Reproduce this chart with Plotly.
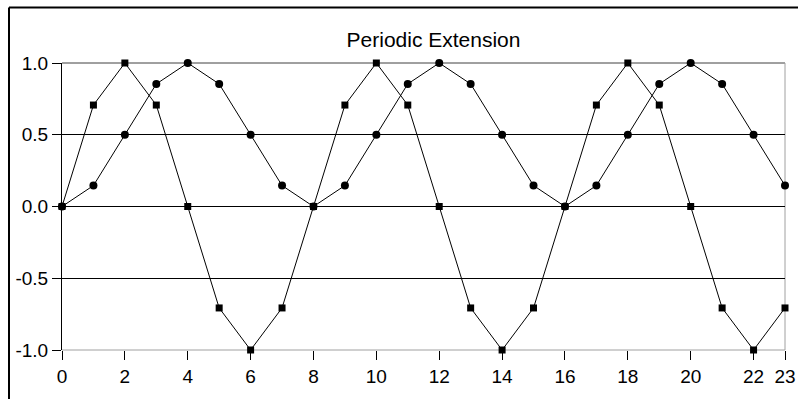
import plotly.graph_objects as go

n_index = list(range(24))
square_vals = [0.0, 0.707, 1.0, 0.707, 0.0, -0.707, -1.0, -0.707,
               0.0, 0.707, 1.0, 0.707, 0.0, -0.707, -1.0, -0.707,
               0.0, 0.707, 1.0, 0.707, 0.0, -0.707, -1.0, -0.707]
circle_vals = [0.0, 0.146, 0.5, 0.854, 1.0, 0.854, 0.5, 0.146,
               0.0, 0.146, 0.5, 0.854, 1.0, 0.854, 0.5, 0.146,
               0.0, 0.146, 0.5, 0.854, 1.0, 0.854, 0.5, 0.146]
x_ticks = [0, 2, 4, 6, 8, 10, 12, 14, 16, 18, 20, 22, 23]
y_ticks = [-1.0, -0.5, 0.0, 0.5, 1.0]
y_tick_labels = ["-1.0", "-0.5", "0.0", "0.5", "1.0"]
title_text = "Periodic Extension"

W, H = 798, 399
ML, MR, MT, MB = 62, 13, 63, 49
PW, PH = W - ML - MR, H - MT - MB

tick_font = dict(family="Liberation Sans", size=19, color="black")

fig = go.Figure()
fig.add_trace(go.Scatter(x=n_index, y=circle_vals, mode="lines+markers",
                         line=dict(color="black", width=1),
                         marker=dict(symbol="circle", size=8, color="black"),
                         cliponaxis=False, showlegend=False))
fig.add_trace(go.Scatter(x=n_index, y=square_vals, mode="lines+markers",
                         line=dict(color="black", width=1),
                         marker=dict(symbol="square", size=7, color="black"),
                         cliponaxis=False, showlegend=False))

shapes = []
shapes.append(dict(type="line", xref="paper", yref="paper", x0=0, x1=1, y0=1, y1=1,
                   line=dict(color="#404040", width=1), layer="between"))
shapes.append(dict(type="line", xref="paper", yref="paper", x0=0, x1=1, y0=0, y1=0,
                   line=dict(color="#a0a0a0", width=1), layer="between"))
shapes.append(dict(type="line", xref="paper", yref="paper", x0=1, x1=1, y0=0, y1=1,
                   line=dict(color="#a0a0a0", width=1), layer="between"))
bx = (9 - ML) / PW
by = 1 + (MT - 7.5) / PH
bbot = -(MB + 5) / PH
bright = 1 + (MR + 5) / PW
shapes.append(dict(type="line", xref="paper", yref="paper", x0=bx, x1=bx, y0=bbot, y1=by,
                   line=dict(color="black", width=2), layer="above"))
shapes.append(dict(type="line", xref="paper", yref="paper", x0=bx, x1=bright, y0=by, y1=by,
                   line=dict(color="black", width=2), layer="above"))

fig.update_layout(
    width=W, height=H,
    margin=dict(l=ML, r=MR, t=MT, b=MB, pad=0, autoexpand=False),
    paper_bgcolor="white", plot_bgcolor="white",
    title=dict(text=title_text, x=(433.5 - ML) / PW, xref="paper", xanchor="center",
               y=1 - 39.5 / H, yref="container", yanchor="middle",
               font=dict(family="Liberation Sans", size=21, color="black")),
    shapes=shapes,
    xaxis=dict(range=[0, 23], tickvals=x_ticks, ticktext=[str(v) for v in x_ticks],
               ticks="outside", ticklen=9, tickcolor="black", tickwidth=1,
               showgrid=False, zeroline=False, showline=False, automargin=False,
               tickfont=tick_font),
    yaxis=dict(range=[-1, 1], tickvals=y_ticks, ticktext=y_tick_labels,
               ticks="outside", ticklen=9, tickcolor="black", tickwidth=1,
               showgrid=True, gridcolor="black", gridwidth=1, automargin=False,
               zeroline=False, showline=True, linecolor="black", linewidth=1,
               tickfont=tick_font),
)

fig.write_html("out.html",
               config={"displayModeBar": False},
               post_script="document.body.style.margin='0';document.body.style.overflow='hidden';")
